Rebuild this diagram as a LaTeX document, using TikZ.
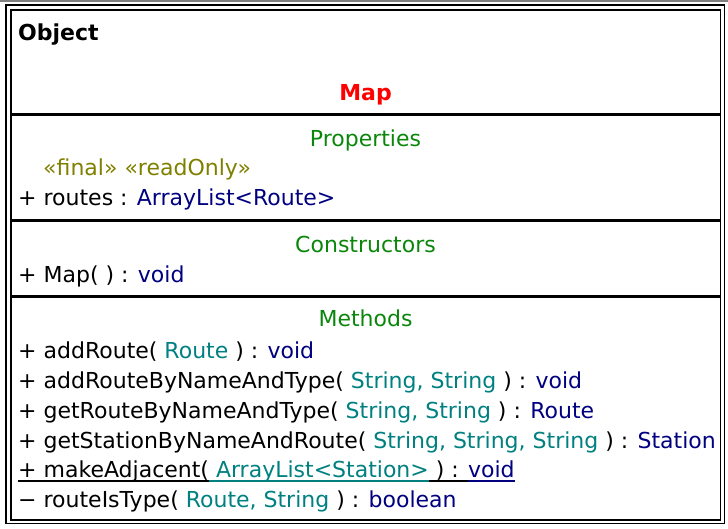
\documentclass[tikz,border=0pt]{standalone}
\usepackage{fontspec}
\setmainfont{DejaVu Sans}
\definecolor{umlgreen}{RGB}{10,135,10}
\definecolor{umlred}{RGB}{255,0,0}
\definecolor{umlolive}{RGB}{128,128,0}
\definecolor{umlnavy}{RGB}{0,0,128}
\definecolor{umlteal}{RGB}{0,128,128}
\newcommand{\ptype}[1]{\textcolor{umlteal}{#1}}
\newcommand{\rtype}[1]{\textcolor{umlnavy}{#1}}
\newcommand{\useg}[1]{\setbox0\hbox{#1}\rlap{\rule[-4.5pt]{\wd0}{1.5pt}}\box0}
\tikzset{
	member/.style={anchor=base west, inner sep=0pt, font=\fontsize{22}{26}\selectfont},
	heading/.style={anchor=base, inner sep=0pt, text=umlgreen, font=\fontsize{22}{26}\selectfont},
	sep/.style={line width=3pt}
}
\begin{document}
\begin{tikzpicture}[x=1pt, y=-1pt]
				\useasboundingbox (0,0) rectangle (728,528);
				\fill[gray] (0,0) rectangle (728,1.8);
				%frame
				\draw[line width=1.8pt] (5.8,4.8) rectangle (724.5,523.5);
				\draw[line width=1.8pt] (10.8,9.8) rectangle (720.5,520);
				\foreach \y in {114, 220, 296} {
					\draw[sep] (10.8,\y) -- (720.5,\y);
				}
				%name
				\node[member, font=\bfseries\fontsize{22}{26}\selectfont] (object) at (18,40) {Object};
				\node[heading, text=umlred, font=\bfseries\fontsize{22}{26}\selectfont] (map) at (365.5,100) {Map};
				%properties
				\node[heading] (props) at (365.5,146) {Properties};
				\node[member, text=umlolive] (stereo) at (43,175) {«final» «readOnly»};
				\node[member] (routes) at (18,205) {+ routes : \rtype{ArrayList<Route>}};
				%constructors
				\node[heading] (ctors) at (365.5,252) {Constructors};
				\node[member] (ctor) at (18,282) {+ Map( ) : \rtype{void}};
				%methods
				\node[heading] (meths) at (365.5,326) {Methods};
				\node[member] (m1) at (18,358) {+ addRoute( \ptype{Route} ) : \rtype{void}};
				\node[member] (m2) at (18,388) {+ addRouteByNameAndType( \ptype{String, String} ) : \rtype{void}};
				\node[member] (m3) at (18,418) {+ getRouteByNameAndType( \ptype{String, String} ) : \rtype{Route}};
				\node[member] (m4) at (18,448) {+ getStationByNameAndRoute( \ptype{String, String, String} ) : \rtype{Station}};
				\node[member] (m5) at (18,477) {\useg{+ makeAdjacent(}\ptype{\useg{ ArrayList<Station>}}\useg{ ) : }\rtype{\useg{void}}};
				\node[member] (m6) at (18,507) {− routeIsType( \ptype{Route, String} ) : \rtype{boolean}};
			\end{tikzpicture}
\end{document}
